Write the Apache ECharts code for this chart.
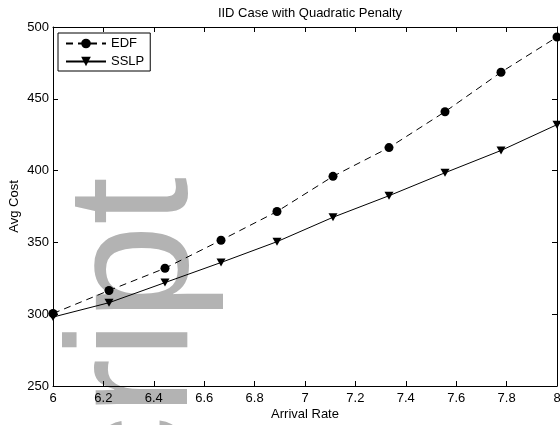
<!DOCTYPE html>
<html>
<head>
<meta charset="utf-8">
<script src="https://cdn.jsdelivr.net/npm/echarts@6/dist/echarts.min.js"></script>
<style>
  html, body { margin: 0; padding: 0; background: #fff; }
  #chart { width: 560px; height: 425px; }
</style>
</head>
<body>
<div id="chart"></div>
<script>
// Arrival rates sampled on the x axis
const arrivalRates = [6, 6.2222, 6.4444, 6.6667, 6.8889, 7.1111, 7.3333, 7.5556, 7.7778, 8];
// Average cost per policy
const edfCost  = [300.5, 316.5, 332, 351.5, 371.5, 396, 416, 441, 468.5, 493];
const sslpCost = [298, 308, 322, 336, 350.5, 367.5, 382.5, 398.5, 414, 432];
const seriesNames = ['EDF', 'SSLP'];

const FONT = "'Liberation Sans', Arial, Helvetica, sans-serif";
const chart = echarts.init(document.getElementById('chart'), null, { renderer: 'canvas' });

const axisCommon = {
  axisLine: { show: true, onZero: false, lineStyle: { color: '#000', width: 1 } },
  axisTick: { show: true, inside: true, length: 5, lineStyle: { color: '#000', width: 1 } },
  splitLine: { show: false }
};

chart.setOption({
  backgroundColor: '#fff',
  animation: false,
  textStyle: { fontFamily: FONT },
  title: {
    text: 'IID Case with Quadratic Penalty',
    left: 305, top: 2, textAlign: 'center',
    textStyle: { fontFamily: FONT, fontSize: 13, fontWeight: 'normal', color: '#000' }
  },
  grid: { left: 53, right: 3, top: 27, bottom: 39, containLabel: false, outerBoundsMode: 'none' },
  legend: {
    orient: 'vertical', left: 58, top: 33,
    itemWidth: 40, itemHeight: 12, itemGap: 5,
    padding: [4, 6, 3, 7],
    borderColor: '#000', borderWidth: 1, backgroundColor: '#fff',
    textStyle: { fontFamily: FONT, fontSize: 13, color: '#000' },
    data: seriesNames
  },
  xAxis: [
    Object.assign({
      type: 'value', min: 6, max: 8, interval: 0.2, position: 'bottom',
      name: 'Arrival Rate', nameLocation: 'middle', nameGap: 22, nameMoveOverlap: false,
      nameTextStyle: { fontFamily: FONT, fontSize: 13, color: '#000' },
      axisLabel: { color: '#000', fontFamily: FONT, fontSize: 13, margin: 6,
        formatter: v => String(+v.toFixed(1)) }
    }, axisCommon),
    Object.assign({
      type: 'value', min: 6, max: 8, interval: 0.2, position: 'top',
      axisLabel: { show: false }
    }, axisCommon)
  ],
  yAxis: [
    Object.assign({
      type: 'value', min: 250, max: 500, interval: 50, position: 'left',
      name: 'Avg Cost', nameLocation: 'middle', nameGap: 32, nameMoveOverlap: false,
      nameTextStyle: { fontFamily: FONT, fontSize: 13, color: '#000' },
      axisLabel: { color: '#000', fontFamily: FONT, fontSize: 13, margin: 4 }
    }, axisCommon),
    Object.assign({
      type: 'value', min: 250, max: 500, interval: 50, position: 'right',
      axisLabel: { show: false }
    }, axisCommon)
  ],
  graphic: {
    elements: [{
      type: 'text',
      x: 140, y: 177,
      rotation: Math.PI / 2,
      z: -10,
      silent: true,
      style: {
        text: 'Manuscript',
        font: '172px ' + FONT,
        fill: '#b3b3b3',
        align: 'right',
        verticalAlign: 'middle'
      }
    }]
  },
  series: [
    {
      name: seriesNames[0], type: 'line',
      data: arrivalRates.map((x, i) => [x, edfCost[i]]),
      symbol: 'circle', symbolSize: 9,
      itemStyle: { color: '#000' },
      lineStyle: { color: '#000', width: 1, type: [7, 5] },
      clip: false, z: 3
    },
    {
      name: seriesNames[1], type: 'line',
      data: arrivalRates.map((x, i) => [x, sslpCost[i]]),
      symbol: 'triangle', symbolSize: [9, 8], symbolRotate: 180,
      itemStyle: { color: '#000' },
      lineStyle: { color: '#000', width: 1, type: 'solid' },
      clip: false, z: 3
    }
  ]
});
</script>
</body>
</html>
